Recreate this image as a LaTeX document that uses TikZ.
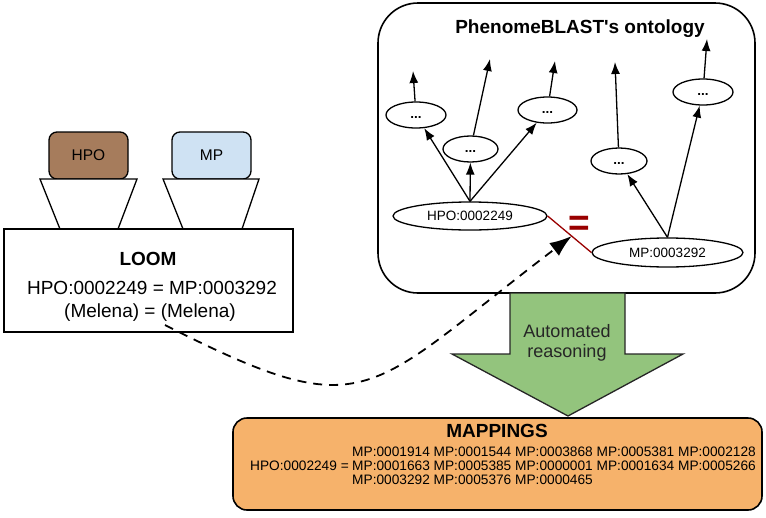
\documentclass[tikz,border=0pt]{standalone}
\usepackage{fontspec}
\setmainfont{Liberation Sans}
\usetikzlibrary{arrows.meta,shapes.geometric,calc}
\definecolor{hpobrown}{RGB}{166,124,92}
\definecolor{mpblue}{RGB}{207,226,243}
\definecolor{arrgreen}{RGB}{147,196,125}
\definecolor{maporange}{RGB}{246,178,107}
\definecolor{eqred}{RGB}{153,0,0}
\tikzset{
  srcbox/.style={draw=black, line width=1.3pt, rounded corners=8pt, minimum width=79pt, minimum height=47pt, inner sep=0pt, font=\fontsize{15.5}{16}\selectfont},
  funnel/.style={draw=black, line width=1.3pt, fill=white},
  termell/.style={draw=black, ellipse, line width=1.3pt, inner sep=0pt, font=\fontsize{13.5}{14}\selectfont},
  dotell/.style={draw=black, ellipse, line width=1.3pt, inner sep=0pt, minimum width=58pt, minimum height=26pt, font=\fontsize{13.5}{14}\selectfont\bfseries},
  isa/.style={line width=1.3pt, -{Latex[length=12pt,width=9pt]}},
  txt/.style={inner sep=0pt, anchor=base},
}
\begin{document}
\begin{tikzpicture}[x=1pt,y=-1pt]
\useasboundingbox (0,0) rectangle (766,517);
% ontology box
\node[draw=black, line width=1.6pt, rounded corners=40pt, minimum width=377pt, minimum height=290pt, inner sep=0pt] (onto) at (566.5,148) {};
\node[txt, font=\fontsize{19}{20}\selectfont\bfseries] (ontot) at (580,33) {PhenomeBLAST\textquotesingle s ontology};
% terms
\node[termell, minimum width=154pt, minimum height=28pt] (hpo) at (470,216) {HPO:0002249};
\node[termell, minimum width=151pt, minimum height=29pt] (mp) at (667.5,252.5) {MP:0003292};
\node[dotell, minimum width=60pt] (e1) at (416,115) {...\vphantom{x}};
\node[dotell, minimum width=55pt] (e2) at (470.5,149) {...\vphantom{x}};
\node[dotell, minimum width=59pt] (e3) at (547.5,110) {...\vphantom{x}};
\node[dotell, minimum width=56pt] (e4) at (619,161) {...\vphantom{x}};
\node[dotell, minimum width=60pt] (e5) at (703,92) {...\vphantom{x}};
\coordinate (t1) at (413,71);
\coordinate (t2) at (490,59);
\coordinate (t3) at (555,61);
\coordinate (t4) at (615,62);
\coordinate (t5) at (707,39);
\draw[isa] (hpo.north) -- (e1);
\draw[isa] (hpo.north) -- (e2);
\draw[isa] (hpo.north) -- (e3);
\draw[isa] (mp.north) -- (e4);
\draw[isa] (mp.north) -- (e5);
\draw[isa] (e1) -- (t1);
\draw[isa] (e2) -- (t2);
\draw[isa] (e3) -- (t3);
\draw[isa] (e4) -- (t4);
\draw[isa] (e5) -- (t5);
% equivalence
\draw[eqred, line width=1.3pt] (hpo.east) -- (mp.west);
\coordinate (eqpt) at ($(hpo.east)!0.55!(mp.west)$);
\node[inner sep=0pt, text=eqred, font=\fontsize{37}{37}\selectfont\bfseries] (eqsign) at (579.5,226) {=};
% sources
\node[srcbox, fill=hpobrown] (hposrc) at (88.5,155.5) {HPO};
\node[srcbox, fill=mpblue] (mpsrc) at (211.5,155.5) {MP};
\draw[funnel] (40,179) -- (137,179) -- (118,229) -- (60,229) -- cycle;
\draw[funnel] (163,179) -- (259,179) -- (242,229) -- (183,229) -- cycle;
% LOOM
\node[draw=black, line width=1.3pt, fill=white, minimum width=289pt, minimum height=103pt, inner sep=0pt] (loom) at (148.5,280.5) {};
\node[txt, font=\fontsize{19}{20}\selectfont\bfseries] (loomt) at (148,265) {LOOM};
\node[txt, font=\fontsize{19}{20}\selectfont] (looml1) at (152,294) {HPO:0002249 = MP:0003292};
\node[txt, font=\fontsize{19}{20}\selectfont] (looml2) at (150,317) {(Melena) = (Melena)};
% reasoning arrow
\draw[fill=arrgreen, draw=black!85, line width=1.3pt, line join=miter]
  (510,293) -- (625,293) -- (625,354) -- (683,354) -- (568,416) -- (452,354) -- (510,354) -- cycle;
\node[txt, font=\fontsize{18}{20}\selectfont, text=black!85] (reas1) at (567,337) {Automated};
\node[txt, font=\fontsize{18}{20}\selectfont, text=black!85] (reas2) at (567,357) {reasoning};
% mappings
\node[draw=black, line width=1.6pt, fill=maporange, rounded corners=14pt, minimum width=529pt, minimum height=92pt, inner sep=0pt] (maps) at (497.5,464) {};
\node[txt, font=\fontsize{19}{20}\selectfont\bfseries] (mapst) at (497,437) {MAPPINGS};
\node[inner sep=0pt, anchor=base east, font=\fontsize{13.7}{14}\selectfont] (mapl) at (349,470) {HPO:0002249 =};
\node[inner sep=0pt, anchor=base west, align=left, font=\fontsize{13.7}{14}\selectfont] (mapr) at (352,484) {MP:0001914 MP:0001544 MP:0003868 MP:0005381 MP:0002128\\MP:0001663 MP:0005385 MP:0000001 MP:0001634 MP:0005266\\MP:0003292 MP:0005376 MP:0000465};
% dashed link
\coordinate (dstart) at (165,325);
\draw[dashed, dash pattern=on 9pt off 7pt, line width=1.8pt, -{Latex[length=22pt,width=16pt]}]
  (dstart) .. controls (370,429) and (364,394) .. (eqpt);
\end{tikzpicture}
\end{document}
